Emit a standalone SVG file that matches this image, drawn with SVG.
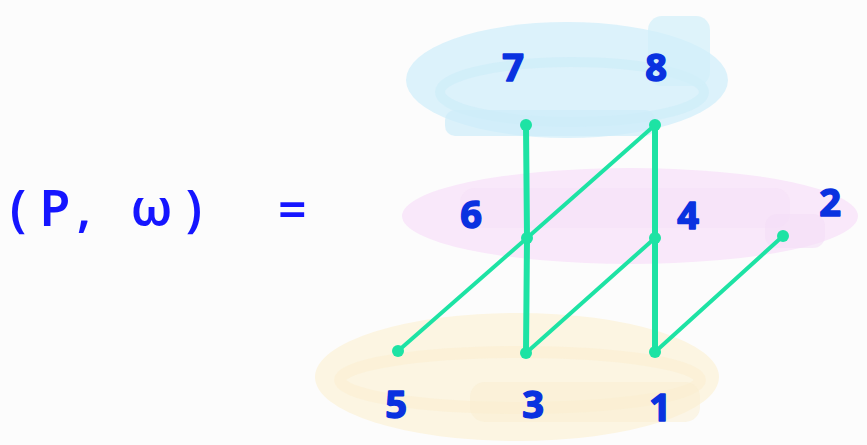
<svg xmlns="http://www.w3.org/2000/svg" width="867" height="445" viewBox="0 0 867 445">
<style>
.lbl{font-family:"Noto Sans","DejaVu Sans",sans-serif;font-weight:bold;font-size:38px;fill:#0a32e0;stroke:#0a32e0;stroke-width:1.5;stroke-linejoin:round;text-anchor:middle}
.eq{font-family:"Noto Sans","DejaVu Sans",sans-serif;font-weight:600;font-size:50px;fill:#1515ff}
.thick{stroke:#1de3a4;stroke-width:6;stroke-linecap:round;fill:none}
.thin{stroke:#1de3a4;stroke-width:4;stroke-linecap:round;fill:none}
.dot{fill:#1de3a4}
</style>
<rect width="867" height="445" fill="#fcfcfc"/>
<g id="blob-blue">
<ellipse cx="567" cy="80" rx="161" ry="58" fill="#dcf2fb"/>
<ellipse cx="572" cy="92" rx="132" ry="30" fill="none" stroke="#cfedf9" stroke-width="10" opacity="0.8"/>
<rect x="445" y="110" width="210" height="26" rx="10" fill="#cdedf9" opacity="0.7"/>
<rect x="648" y="16" width="62" height="70" rx="14" fill="#d2effa" opacity="0.7"/>
</g>
<g id="blob-pink">
<ellipse cx="630" cy="216" rx="228" ry="48" fill="#f9e8fa"/>
<rect x="460" y="188" width="330" height="40" rx="15" fill="#f5e0f8" opacity="0.5"/>
<rect x="765" y="214" width="60" height="34" rx="12" fill="#f3ddf6" opacity="0.6"/>
</g>
<g id="blob-yellow">
<ellipse cx="517" cy="377" rx="202" ry="64" fill="#fcf5e2"/>
<ellipse cx="520" cy="380" rx="180" ry="28" fill="none" stroke="#fbf0d6" stroke-width="12" opacity="0.8"/>
<rect x="470" y="382" width="230" height="40" rx="15" fill="#faeed0" opacity="0.5"/>
</g>
<g id="connectors">
<path class="thick" d="M526 125 L527 238 L526 353"/>
<path class="thick" d="M655 125 L655 238 L655 352"/>
<path class="thin" d="M655 125 L527 238 L398 351"/>
<path class="thin" d="M655 238 L526 353"/>
<path class="thin" d="M783 236 L655 352"/>
</g>
<g id="node-7"><circle class="dot" cx="526" cy="125" r="6"/><text class="lbl" x="513" y="81">7</text></g>
<g id="node-8"><circle class="dot" cx="655" cy="125" r="6"/><text class="lbl" x="656" y="81">8</text></g>
<g id="node-6"><circle class="dot" cx="527" cy="238" r="6"/><text class="lbl" x="471" y="228">6</text></g>
<g id="node-4"><circle class="dot" cx="655" cy="238" r="6"/><text class="lbl" x="688" y="229">4</text></g>
<g id="node-2"><circle class="dot" cx="783" cy="236" r="6"/><text class="lbl" x="830" y="216">2</text></g>
<g id="node-5"><circle class="dot" cx="398" cy="351" r="6"/><text class="lbl" x="396" y="418">5</text></g>
<g id="node-3"><circle class="dot" cx="526" cy="353" r="6"/><text class="lbl" x="533" y="418">3</text></g>
<g id="node-1"><circle class="dot" cx="655" cy="352" r="6"/><text class="lbl" x="660" y="421">1</text></g>
<g id="title">
<text class="eq" x="10" y="226" textLength="192" lengthAdjust="spacing">(P, ω)</text>
<text class="eq" x="278" y="228">=</text>
</g>
</svg>
